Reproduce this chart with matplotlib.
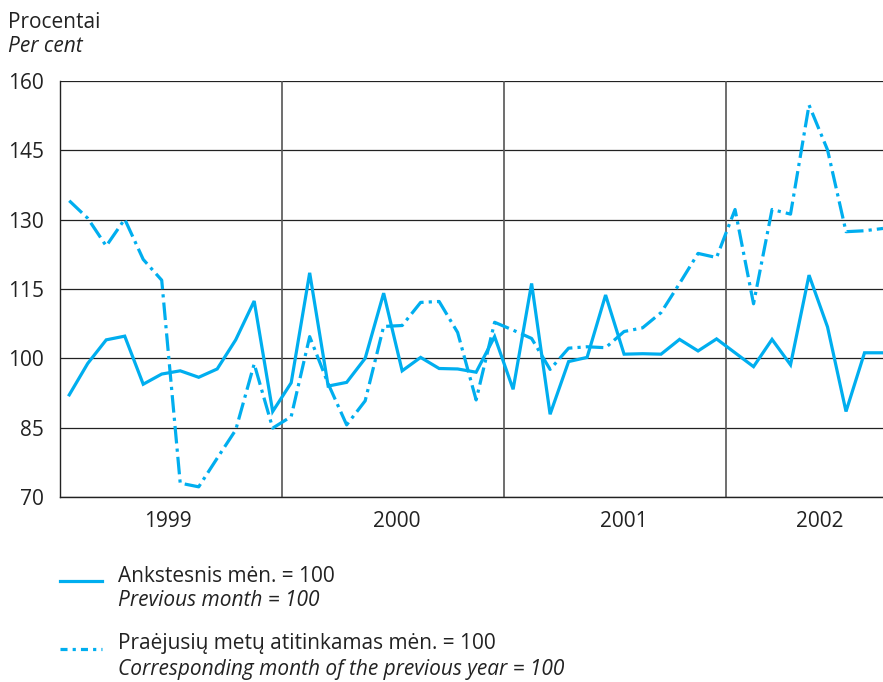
import matplotlib.pyplot as plt
from matplotlib.lines import Line2D

plt.rcParams['font.family'] = ['Open Sans', 'DejaVu Sans']

# monthly indices, Jan 1999 .. Sep 2002
years = ['1999', '2000', '2001', '2002']
year_label_pos = [5.35, 17.7, 30.0, 40.6]

prev_month = [92.1, 98.9, 104.0, 104.8, 94.4, 96.6, 97.3, 95.9, 97.7, 104.0, 112.4, 88.5,
              94.7, 118.5, 94.0, 94.8, 100.0, 114.1, 97.3, 100.2, 97.8, 97.7, 97.0, 104.7,
              93.3, 116.2, 87.9, 99.3, 100.2, 113.7, 100.9, 101.0, 100.9, 104.1, 101.6, 104.2,
              101.2, 98.2, 104.1, 98.6, 118.0, 106.8, 88.5, 101.2, 101.2]
prev_year = [134.1, 130.3, 124.3, 130.1, 121.4, 116.9, 73.0, 72.2, 78.4, 84.5, 98.8, 84.9,
             87.4, 104.7, 94.5, 85.6, 90.8, 106.9, 107.1, 112.1, 112.3, 105.6, 91.0, 107.8,
             106.1, 104.3, 97.6, 102.2, 102.5, 102.3, 105.8, 106.6, 109.9, 116.2, 122.7, 121.8,
             132.2, 111.8, 132.2, 131.2, 154.8, 145.1, 127.4, 127.6, 128.1]
yticks = [70, 85, 100, 115, 130, 145, 160]

W, H = 883, 682
fig = plt.figure(figsize=(W / 100, H / 100), dpi=100)
ax = fig.add_axes([60 / W, (H - 497) / H, (883 - 60) / W, (497 - 81) / H])

color = '#00AEEF'
fs = 15
x = list(range(len(prev_month)))

for t in yticks:
    ax.axhline(t, color='#222222', lw=0.9, zorder=1)
for k in range(1, len(years)):
    ax.axvline(12 * k - 0.5, color='#555555', lw=1.2, zorder=1)

ax.plot(x, prev_month, color=color, lw=2.3, zorder=3, solid_joinstyle='miter')
ax.plot(x, prev_year, color=color, lw=2.3, zorder=3,
        dashes=(5.5, 1.6, 1, 1.6))

ax.set_xlim(-0.5, 44)
ax.set_ylim(70, 160)
ax.set_yticks(yticks)
ax.set_yticklabels([str(t) for t in yticks], fontsize=fs, color='#222222')
ax.tick_params(axis='y', length=0, pad=11.5)
ax.set_xticks([])
for s in ['top', 'right']:
    ax.spines[s].set_visible(False)
for s in ['left', 'bottom']:
    ax.spines[s].set_color('#222222')
    ax.spines[s].set_linewidth(1.0)

for yr, p in zip(years, year_label_pos):
    ax.text(p, 64.8, yr, ha='center', va='center', fontsize=fs, color='#222222')

fig.text(8 / W, 1 - 22 / H, 'Procentai', fontsize=fs, va='center', color='#222222')
fig.text(8 / W, 1 - 47 / H, 'Per cent', fontsize=fs, va='center', style='italic', color='#222222')

# legend
fig.add_artist(Line2D([60 / W, 102 / W], [1 - 581 / H] * 2, color=color, lw=2.3))
fig.add_artist(Line2D([60 / W, 102 / W], [1 - 649 / H] * 2, color=color, lw=2.3,
                      dashes=(2.2, 1.6, 1, 1.6)))
fig.text(118 / W, 1 - 576 / H, 'Ankstesnis mėn. = 100', fontsize=fs, va='center', color='#222222')
fig.text(118 / W, 1 - 601 / H, 'Previous month = 100', fontsize=fs, va='center',
         style='italic', color='#222222')
fig.text(118 / W, 1 - 644 / H, 'Praėjusių metų atitinkamas mėn. = 100', fontsize=fs,
         va='center', color='#222222')
fig.text(118 / W, 1 - 669 / H, 'Corresponding month of the previous year = 100', fontsize=fs,
         va='center', style='italic', color='#222222')

fig.savefig('out.png', dpi=100)
